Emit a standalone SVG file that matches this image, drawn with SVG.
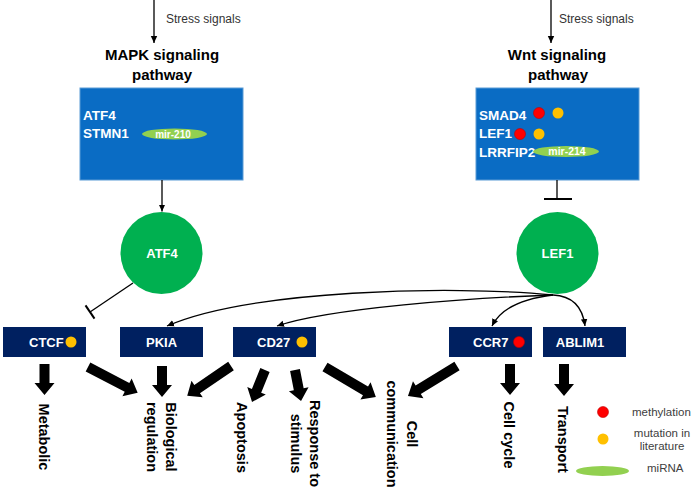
<svg xmlns="http://www.w3.org/2000/svg" width="693" height="490" viewBox="0 0 693 490">
<defs>
<style>
.bg{fill:#ffffff}
.pbox{fill:#0a6cc4;stroke:#5b9bd5;stroke-width:1}
.gbox{fill:#002060}
.circ{fill:#00b050}
.mir{fill:#92d050}
.red{fill:#ff0000;stroke:#c00000;stroke-width:0.6}
.org{fill:#ffc000}
.ln{fill:none;stroke:#000;stroke-width:1.3}
.bar{fill:none;stroke:#000;stroke-width:2}
.blk{fill:#000}
.t{font-family:"Liberation Sans",Arial,sans-serif}
.stress{font-size:12px;fill:#333}
.title{font-size:15px;font-weight:bold;fill:#000;text-anchor:middle}
.wb{font-size:13.5px;font-weight:bold;fill:#fff}
.mt{font-size:10px;font-weight:bold;fill:#fff;text-anchor:middle}
.ct{font-size:13px;font-weight:bold;fill:#fff;text-anchor:middle}
.bt{font-size:13px;font-weight:bold;fill:#fff}
.lbl{font-size:14.5px;font-weight:bold;fill:#000;text-anchor:middle}
.leg{font-size:11.5px;fill:#404040}
</style>
<marker id="ah" markerWidth="8" markerHeight="8" refX="7" refY="4" orient="auto" markerUnits="userSpaceOnUse">
<path d="M0,0.8 L7,4 L0,7.2 Z" fill="#000"/>
</marker>
</defs>
<rect class="bg" x="0" y="0" width="693" height="490"/>

<g id="mapk-pathway">
<text class="t title" x="162" y="60">MAPK signaling</text>
<text class="t title" x="162" y="80">pathway</text>
<rect class="pbox" x="80" y="88" width="163" height="92"/>
<text class="t wb" x="83" y="120">ATF4</text>
<text class="t wb" x="83" y="138">STMN1</text>
<ellipse class="mir" cx="174.5" cy="134" rx="32.5" ry="5.5"/>
<text class="t mt" x="173" y="137.5">mir-210</text>
</g>

<g id="wnt-pathway">
<text class="t title" x="557" y="60">Wnt signaling</text>
<text class="t title" x="558" y="80">pathway</text>
<rect class="pbox" x="476" y="88" width="163" height="92"/>
<text class="t wb" x="479" y="120">SMAD4</text>
<circle class="red" cx="539" cy="113" r="5.5"/>
<circle class="org" cx="558" cy="113" r="5.5"/>
<text class="t wb" x="479" y="138">LEF1</text>
<circle class="red" cx="520" cy="134" r="5.5"/>
<circle class="org" cx="539" cy="134" r="5.5"/>
<text class="t wb" x="479" y="157">LRRFIP2</text>
<ellipse class="mir" cx="566" cy="151.5" rx="33" ry="5.5"/>
<text class="t mt" x="567" y="154.5" style="font-size:10.5px">mir-214</text>
</g>

<g id="atf4">
<circle class="circ" cx="161.5" cy="253" r="41"/>
<text class="t ct" x="162" y="258">ATF4</text>
</g>
<g id="lef1">
<circle class="circ" cx="557.5" cy="253" r="41"/>
<text class="t ct" x="557.5" y="258">LEF1</text>
</g>

<g id="ctcf">
<rect class="gbox" x="3" y="327" width="83" height="30"/>
<text class="t bt" x="29" y="347">CTCF</text>
<circle class="org" cx="71" cy="342" r="5.5"/>
</g>
<g id="pkia">
<rect class="gbox" x="120" y="327" width="83" height="30"/>
<text class="t ct" x="161.5" y="347">PKIA</text>
</g>
<g id="cd27">
<rect class="gbox" x="233" y="327" width="83" height="30"/>
<text class="t bt" x="257" y="347">CD27</text>
<circle class="org" cx="302" cy="342" r="5.5"/>
</g>
<g id="ccr7">
<rect class="gbox" x="449" y="327" width="83" height="30"/>
<text class="t bt" x="473" y="347">CCR7</text>
<circle class="red" cx="519" cy="342" r="5.5"/>
</g>
<g id="ablim1">
<rect class="gbox" x="543" y="327" width="83" height="30"/>
<text class="t ct" x="580" y="347">ABLIM1</text>
</g>

<g id="stress-left">
<text class="t stress" x="166" y="23">Stress signals</text>
</g>
<g id="stress-right">
<text class="t stress" x="559" y="23">Stress signals</text>
</g>

<g id="connectors">
<line class="ln" x1="154" y1="0" x2="154" y2="43" marker-end="url(#ah)"/>
<line class="ln" x1="551" y1="0" x2="551" y2="43" marker-end="url(#ah)"/>
<line class="ln" x1="162" y1="180" x2="162" y2="211.5" marker-end="url(#ah)"/>
<line class="ln" x1="133" y1="283" x2="90" y2="312"/>
<line class="bar" x1="85.5" y1="305.4" x2="94.5" y2="318.6"/>
<line class="ln" x1="557" y1="180" x2="557" y2="199"/>
<line class="bar" x1="544" y1="199" x2="572" y2="199"/>
<path class="ln" d="M553,295 C450,285 250,290 167,326" marker-end="url(#ah)"/>
<path class="ln" d="M553,295 C470,298 330,308 277,326" marker-end="url(#ah)"/>
<path class="ln" d="M553,295 C520,299 500,310 492,326" marker-end="url(#ah)"/>
<path class="ln" d="M553,295 C575,296 583,310 585,326" marker-end="url(#ah)"/>

<path class="blk" transform="translate(44.5,364) rotate(90)" d="M0,-5H19V-10L31,0L19,10V5H0Z"/>
<path class="blk" transform="translate(88,367) rotate(27.5)" d="M0,-5H44V-10L56,0L44,10V5H0Z"/>
<path class="blk" transform="translate(162,366) rotate(90)" d="M0,-5H19V-10L31,0L19,10V5H0Z"/>
<path class="blk" transform="translate(231,366) rotate(145.7)" d="M0,-5H41V-10L53,0L41,10V5H0Z"/>
<path class="blk" transform="translate(265,370) rotate(112.1)" d="M0,-5H22.5V-10L34.5,0L22.5,10V5H0Z"/>
<path class="blk" transform="translate(295,370) rotate(79)" d="M0,-5H19.6V-10L31.6,0L19.6,10V5H0Z"/>
<path class="blk" transform="translate(325,367) rotate(30.5)" d="M0,-5H47V-10L59,0L47,10V5H0Z"/>
<path class="blk" transform="translate(457,366) rotate(148.5)" d="M0,-5H45.5V-10L57.5,0L45.5,10V5H0Z"/>
<path class="blk" transform="translate(510,364) rotate(90)" d="M0,-5H19V-10L31,0L19,10V5H0Z"/>
<path class="blk" transform="translate(564,364) rotate(90)" d="M0,-5H20V-10L32,0L20,10V5H0Z"/>
</g>

<g id="outcomes">
<text class="t lbl" transform="translate(39,437) rotate(90)">Metabolic</text>
<text class="t lbl" transform="translate(166,437) rotate(90)"><tspan x="0" y="0">Biological</tspan><tspan x="0" dy="19">regulation</tspan></text>
<text class="t lbl" transform="translate(237,437.5) rotate(90)">Apoptosis</text>
<text class="t lbl" transform="translate(310,443.5) rotate(90)"><tspan x="0" y="0">Response to</tspan><tspan x="0" dy="19">stimulus</tspan></text>
<text class="t lbl" transform="translate(407,434) rotate(90)"><tspan x="0" y="0">Cell</tspan><tspan x="0" dy="20">communication</tspan></text>
<text class="t lbl" transform="translate(504,435) rotate(90)">Cell cycle</text>
<text class="t lbl" transform="translate(558,439.5) rotate(90)">Transport</text>
</g>

<g id="legend">
<circle class="red" cx="603" cy="412" r="5.5"/>
<text class="t leg" x="632" y="416">methylation</text>
<circle class="org" cx="603" cy="439" r="5.5"/>
<text class="t leg" x="662" y="437" text-anchor="middle">mutation in</text>
<text class="t leg" x="662" y="450" text-anchor="middle">literature</text>
<ellipse class="mir" cx="602.5" cy="471" rx="26.5" ry="5"/>
<text class="t leg" x="647" y="472">miRNA</text>
</g>
</svg>
